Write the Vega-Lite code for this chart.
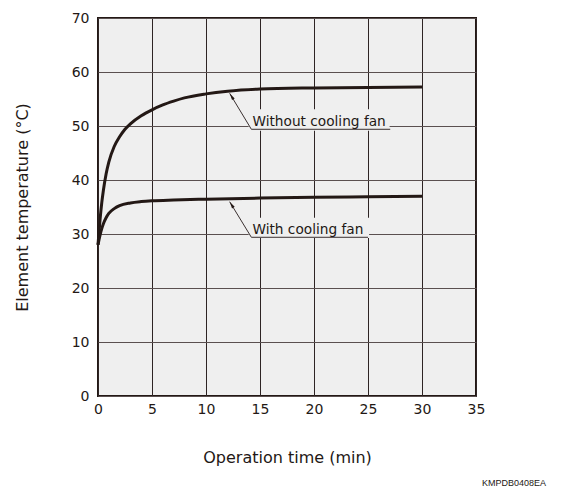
{
  "$schema": "https://vega.github.io/schema/vega-lite/v6.json",
  "width": 378,
  "height": 378,
  "autosize": "none",
  "padding": {"left": 98, "top": 18, "right": 87, "bottom": 98},
  "background": "#ffffff",
  "title": {
    "text": "KMPDB0408EA",
    "orient": "bottom",
    "anchor": "end",
    "frame": "group",
    "font": "Liberation Sans",
    "fontSize": 9,
    "fontWeight": "normal",
    "color": "#231815",
    "dx": 70,
    "offset": 14
  },
  "config": {
    "view": {"fill": "#efefef", "stroke": "#231815", "strokeWidth": 2},
    "axis": {
      "labelFont": "DejaVu Sans",
      "labelFontSize": 14,
      "labelColor": "#231815",
      "titleFont": "DejaVu Sans",
      "titleFontSize": 16,
      "titleFontWeight": "normal",
      "titleColor": "#231815",
      "ticks": false,
      "domain": false,
      "grid": true,
      "gridOpacity": 1,
      "gridWidth": 1
    }
  },
  "datasets": {
    "curves": [
      {"series": "without", "t": 0, "temp": 28.0},
      {"series": "without", "t": 0.1, "temp": 30.6},
      {"series": "without", "t": 0.2, "temp": 32.9},
      {"series": "without", "t": 0.35, "temp": 35.8},
      {"series": "without", "t": 0.5, "temp": 38.1},
      {"series": "without", "t": 0.75, "temp": 41.1},
      {"series": "without", "t": 1.0, "temp": 43.3},
      {"series": "without", "t": 1.5, "temp": 46.2},
      {"series": "without", "t": 2, "temp": 48.0},
      {"series": "without", "t": 2.5, "temp": 49.4},
      {"series": "without", "t": 3, "temp": 50.4},
      {"series": "without", "t": 4, "temp": 51.9},
      {"series": "without", "t": 5, "temp": 53.0},
      {"series": "without", "t": 6, "temp": 53.9},
      {"series": "without", "t": 7, "temp": 54.6},
      {"series": "without", "t": 8, "temp": 55.2},
      {"series": "without", "t": 10, "temp": 55.95},
      {"series": "without", "t": 12, "temp": 56.45},
      {"series": "without", "t": 15, "temp": 56.85},
      {"series": "without", "t": 20, "temp": 57.05},
      {"series": "without", "t": 25, "temp": 57.15},
      {"series": "without", "t": 30, "temp": 57.2},
      {"series": "with", "t": 0, "temp": 28.0},
      {"series": "with", "t": 0.1, "temp": 29.0},
      {"series": "with", "t": 0.2, "temp": 29.9},
      {"series": "with", "t": 0.35, "temp": 31.0},
      {"series": "with", "t": 0.5, "temp": 31.9},
      {"series": "with", "t": 0.75, "temp": 33.0},
      {"series": "with", "t": 1.0, "temp": 33.8},
      {"series": "with", "t": 1.5, "temp": 34.7},
      {"series": "with", "t": 2, "temp": 35.25},
      {"series": "with", "t": 3, "temp": 35.75},
      {"series": "with", "t": 4, "temp": 36.0},
      {"series": "with", "t": 5, "temp": 36.15},
      {"series": "with", "t": 7, "temp": 36.3},
      {"series": "with", "t": 10, "temp": 36.45},
      {"series": "with", "t": 15, "temp": 36.65},
      {"series": "with", "t": 20, "temp": 36.8},
      {"series": "with", "t": 25, "temp": 36.9},
      {"series": "with", "t": 30, "temp": 37.0}
    ],
    "boxes": [
      {"label": "Without cooling fan", "x1": 13.95, "x2": 27.0, "y1": 49.1, "y2": 53.1},
      {"label": "With cooling fan", "x1": 13.95, "x2": 25.1, "y1": 29.26, "y2": 33.0}
    ],
    "leaders": [
      {"label": "Without cooling fan", "o": 1, "t": 12.19, "temp": 56.05},
      {"label": "Without cooling fan", "o": 2, "t": 14.2, "temp": 49.39},
      {"label": "Without cooling fan", "o": 3, "t": 27.06, "temp": 49.39},
      {"label": "With cooling fan", "o": 1, "t": 12.19, "temp": 35.98},
      {"label": "With cooling fan", "o": 2, "t": 14.2, "temp": 29.39},
      {"label": "With cooling fan", "o": 3, "t": 25.0, "temp": 29.39}
    ],
    "heads": [
      {"label": "Without cooling fan", "t": 12.19, "temp": 56.05},
      {"label": "With cooling fan", "t": 12.19, "temp": 35.98}
    ],
    "labels": [
      {"label": "Without cooling fan", "t": 14.3, "temp": 50.05},
      {"label": "With cooling fan", "t": 14.3, "temp": 30.05}
    ]
  },
  "encoding": {
    "x": {
      "field": "t",
      "type": "quantitative",
      "scale": {"domain": [0, 35], "nice": false, "zero": false},
      "axis": {
        "title": "Operation time (min)",
        "values": [0, 5, 10, 15, 20, 25, 30, 35],
        "labelPadding": 6,
        "titlePadding": 33,
        "gridColor": "#2e2424",
        "labelFlush": false
      }
    },
    "y": {
      "field": "temp",
      "type": "quantitative",
      "scale": {"domain": [0, 70], "nice": false, "zero": false},
      "axis": {
        "title": "Element temperature (°C)",
        "values": [0, 10, 20, 30, 40, 50, 60, 70],
        "labelPadding": 9,
        "titlePadding": 41,
        "gridColor": "#5a5050",
        "labelFlush": false
      }
    }
  },
  "layer": [
    {
      "data": {"name": "boxes"},
      "mark": {"type": "rect", "fill": "#efefef", "stroke": null},
      "encoding": {
        "x": {"field": "x1", "type": "quantitative"},
        "x2": {"field": "x2"},
        "y": {"field": "y1", "type": "quantitative"},
        "y2": {"field": "y2"}
      }
    },
    {
      "data": {"name": "leaders"},
      "mark": {"type": "line", "stroke": "#3a3030", "strokeWidth": 1, "interpolate": "linear"},
      "encoding": {
        "detail": {"field": "label"},
        "order": {"field": "o", "type": "quantitative"}
      }
    },
    {
      "data": {"name": "heads"},
      "mark": {
        "type": "point",
        "shape": "M0,0L-0.22,1L0.22,1Z",
        "filled": true,
        "fill": "#231815",
        "stroke": null,
        "size": 196,
        "opacity": 1,
        "angle": 328
      }
    },
    {
      "data": {"name": "curves"},
      "mark": {"type": "line", "stroke": "#231815", "strokeWidth": 3, "interpolate": "monotone"},
      "encoding": {"detail": {"field": "series"}}
    },
    {
      "data": {"name": "labels"},
      "mark": {
        "type": "text",
        "align": "left",
        "baseline": "alphabetic",
        "font": "DejaVu Sans",
        "fontSize": 13.7,
        "color": "#231815"
      },
      "encoding": {"text": {"field": "label"}}
    }
  ]
}
